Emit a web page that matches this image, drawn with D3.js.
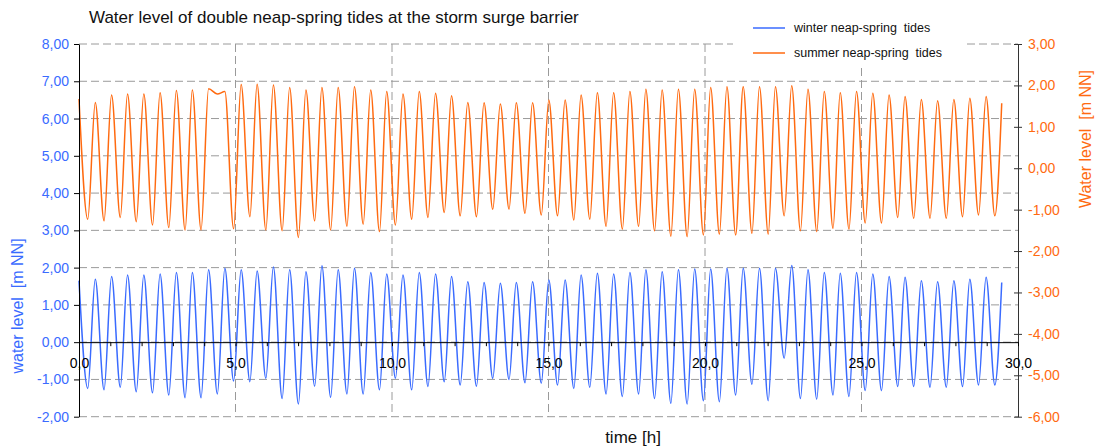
<!DOCTYPE html>
<html>
<head>
<meta charset="utf-8">
<script src="https://cdn.jsdelivr.net/npm/d3@7"></script>
<style>
  body { margin: 0; background: #fff; }
  svg { display: block; font-family: "Liberation Sans", Arial, sans-serif; }
  svg text { white-space: pre; }
</style>
</head>
<body>
<div id="chart"></div>
<script>
// times of high water (last entry = end of record) and low water, in days
const hwTimes = [0.00, 0.52, 1.04, 1.55, 2.07, 2.59, 3.11, 3.62, 4.14, 4.66,
  5.18, 5.69, 6.21, 6.73, 7.25, 7.76, 8.28, 8.80, 9.32, 9.83,
  10.35, 10.87, 11.39, 11.90, 12.42, 12.94, 13.46, 13.97, 14.49, 15.01,
  15.53, 16.04, 16.56, 17.08, 17.60, 18.11, 18.63, 19.15, 19.67, 20.18,
  20.70, 21.22, 21.74, 22.25, 22.77, 23.29, 23.81, 24.32, 24.84, 25.36,
  25.88, 26.39, 26.91, 27.43, 27.95, 28.46, 28.98, 29.48];
const lwTimes = [0.28, 0.80, 1.32, 1.83, 2.35, 2.87, 3.39, 3.90, 4.42, 4.94,
  5.46, 5.97, 6.49, 7.01, 7.53, 8.04, 8.56, 9.08, 9.60, 10.11,
  10.63, 11.15, 11.67, 12.18, 12.70, 13.22, 13.74, 14.25, 14.77, 15.29,
  15.81, 16.32, 16.84, 17.36, 17.88, 18.39, 18.91, 19.43, 19.95, 20.46,
  20.98, 21.50, 22.02, 22.53, 23.05, 23.57, 24.09, 24.60, 25.12, 25.64,
  26.16, 26.67, 27.19, 27.71, 28.23, 28.74, 29.26];

// winter series, left axis [m NN]
const winterHigh = [1.65, 1.69, 1.76, 1.80, 1.80, 1.83, 1.87, 1.87, 1.94, 1.98,
  1.94, 1.91, 2.02, 1.94, 1.89, 2.05, 1.94, 1.98, 1.87, 1.83,
  1.80, 1.87, 1.83, 1.76, 1.62, 1.60, 1.58, 1.60, 1.62, 1.67,
  1.67, 1.80, 1.85, 1.83, 1.87, 1.94, 1.89, 1.94, 1.96, 1.96,
  1.98, 1.98, 1.98, 1.98, 2.06, 1.94, 1.87, 1.85, 1.87, 1.83,
  1.76, 1.74, 1.65, 1.62, 1.65, 1.69, 1.74, 1.60];
const winterLow = [-1.24, -1.28, -1.21, -1.33, -1.36, -1.42, -1.49, -1.49, -1.39, -1.04,
  -1.06, -0.97, -1.51, -1.66, -1.18, -1.48, -1.39, -1.39, -1.28, -0.97,
  -1.28, -1.19, -1.06, -1.15, -1.18, -0.97, -1.00, -1.09, -1.10, -1.15,
  -1.24, -1.21, -1.39, -1.46, -1.39, -1.51, -1.64, -1.66, -1.57, -1.60,
  -1.42, -1.13, -1.57, -0.43, -1.51, -1.53, -1.42, -1.46, -1.30, -1.30,
  -1.19, -1.19, -1.21, -1.21, -1.19, -1.15, -1.15];

// summer series, right axis [m NN]
const summerHigh = [1.67, 1.59, 1.77, 1.79, 1.79, 1.82, 1.88, 1.89, 1.92, 1.85,
  2.02, 2.03, 2.01, 1.95, 1.89, 1.95, 1.95, 1.97, 1.89, 1.85,
  1.79, 1.85, 1.81, 1.75, 1.59, 1.58, 1.55, 1.58, 1.58, 1.65,
  1.65, 1.77, 1.82, 1.82, 1.85, 1.91, 1.89, 1.91, 1.91, 1.95,
  1.97, 1.97, 1.97, 1.97, 1.99, 1.91, 1.85, 1.82, 1.85, 1.81,
  1.77, 1.73, 1.66, 1.63, 1.66, 1.69, 1.73, 1.57];
const summerLow = [-1.23, -1.27, -1.19, -1.29, -1.37, -1.43, -1.49, -1.49, 1.79, -1.46,
  -1.17, -1.49, -1.51, -1.67, -1.27, -1.49, -1.40, -1.35, -1.53, -1.37,
  -1.23, -1.19, -1.07, -1.15, -1.17, -0.99, -0.99, -1.09, -1.13, -1.15,
  -1.25, -1.23, -1.40, -1.47, -1.40, -1.51, -1.64, -1.65, -1.61, -1.59,
  -1.61, -1.57, -1.59, -1.15, -1.51, -1.53, -1.45, -1.47, -1.32, -1.32,
  -1.19, -1.21, -1.21, -1.21, -1.17, -1.13, -1.15];

const leftTicks = [-2, -1, 0, 1, 2, 3, 4, 5, 6, 7, 8];
const rightTicks = [-6, -5, -4, -3, -2, -1, 0, 1, 2, 3];
const xTicks = d3.range(0, 31);
const xLabelTicks = [0, 5, 10, 15, 20, 25, 30];

const blue = '#3a6bff';
const orange = '#ff6a10';

const W = 1096, H = 448;
const plot = { left: 79, right: 1018, top: 44, bottom: 416.7 };

const loc = d3.formatLocale({ decimal: ',', thousands: '.', grouping: [3], currency: ['', ''], minus: '-' });
const f2 = loc.format('.2f');
const f1 = loc.format('.1f');

const x = d3.scaleLinear().domain([0, 30]).range([plot.left, plot.right]);
const yL = d3.scaleLinear().domain([-2, 8]).range([plot.bottom, plot.top]);
const yR = d3.scaleLinear().domain([-6, 3]).range([plot.bottom, plot.top]);

function series(highs, lows) {
  const pts = [];
  hwTimes.forEach((t, i) => {
    pts.push([t, highs[i]]);
    if (i < lwTimes.length) pts.push([lwTimes[i], lows[i]]);
  });
  return pts;
}

const svg = d3.select('#chart').append('svg')
  .attr('width', W).attr('height', H);

// grid
const grid = svg.append('g').attr('stroke', '#9a9a9a').attr('stroke-dasharray', '8,4').attr('stroke-width', 1);
grid.selectAll('line.h').data(leftTicks).join('line')
  .attr('x1', plot.left).attr('x2', plot.right)
  .attr('y1', d => yL(d)).attr('y2', d => yL(d));
grid.selectAll('line.v').data([5, 10, 15, 20, 25]).join('line')
  .attr('x1', d => x(d)).attr('x2', d => x(d))
  .attr('y1', plot.top).attr('y2', plot.bottom);

// legend background
svg.append('rect').attr('x', 733).attr('y', 14).attr('width', 232).attr('height', 50).attr('fill', '#fff');

// lines
const line = yScale => d3.line().x(d => x(d[0])).y(d => yScale(d[1])).curve(d3.curveMonotoneX);
svg.append('path').datum(series(winterHigh, winterLow))
  .attr('fill', 'none').attr('stroke', blue).attr('stroke-width', 1.5)
  .attr('d', line(yL));
svg.append('path').datum(series(summerHigh, summerLow))
  .attr('fill', 'none').attr('stroke', orange).attr('stroke-width', 1.5)
  .attr('d', line(yR));

const font = '"Liberation Sans", Arial, sans-serif';

// left axis
const gL = svg.append('g').attr('transform', `translate(${plot.left},0)`)
  .call(d3.axisLeft(yL).tickValues(leftTicks).tickFormat(f2).tickSize(5).tickSizeOuter(0));
gL.select('.domain').attr('stroke', '#000');
gL.selectAll('text').attr('fill', blue).attr('font-size', 14).attr('font-family', font).attr('x', -10);

// right axis
const gR = svg.append('g').attr('transform', `translate(${plot.right},0)`)
  .call(d3.axisRight(yR).tickValues(rightTicks).tickFormat(f2).tickSize(4).tickSizeOuter(0));
gR.select('.domain').attr('stroke', '#333');
gR.selectAll('.tick line').attr('x1', -4).attr('stroke', '#333');
gR.selectAll('text').attr('fill', orange).attr('font-size', 14).attr('font-family', font).attr('x', 10);

// x axis at level 0
const gX = svg.append('g').attr('transform', `translate(0,${yL(0)})`)
  .call(d3.axisBottom(x).tickValues(xTicks).tickSize(4).tickSizeOuter(0)
    .tickFormat(d => xLabelTicks.includes(d) ? f1(d) : ''));
gX.select('.domain').attr('stroke', '#000');
gX.selectAll('text').attr('fill', '#000').attr('font-size', 14).attr('font-family', font).attr('y', 16);

// titles
svg.append('text').attr('x', 89).attr('y', 23).attr('font-size', 17).attr('fill', '#111')
  .text('Water level of double neap-spring tides at the storm surge barrier');
svg.append('text').attr('x', 633).attr('y', 443).attr('text-anchor', 'middle').attr('font-size', 17).attr('fill', '#111')
  .text('time [h]');
svg.append('text').attr('transform', 'translate(23,306) rotate(-90)').attr('text-anchor', 'middle')
  .attr('font-size', 16).attr('fill', blue).text('water level  [m NN]');
svg.append('text').attr('transform', 'translate(1091,139) rotate(-90)').attr('text-anchor', 'middle')
  .attr('font-size', 16).attr('fill', orange).text('Water level  [m NN]');

// legend
const legendItems = [
  { label: 'winter neap-spring  tides', color: blue, y: 28 },
  { label: 'summer neap-spring  tides', color: orange, y: 53 }
];
const lg = svg.append('g').selectAll('g').data(legendItems).join('g');
lg.append('line').attr('x1', 753).attr('x2', 785)
  .attr('y1', d => d.y).attr('y2', d => d.y)
  .attr('stroke', d => d.color).attr('stroke-width', 1.5);
lg.append('text').attr('x', 794).attr('y', d => d.y + 4).attr('font-size', 12.5).attr('fill', '#111')
  .text(d => d.label);
</script>
</body>
</html>
